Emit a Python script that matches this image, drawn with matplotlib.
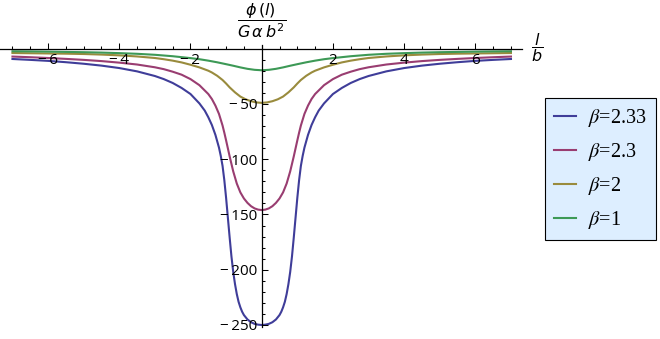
import numpy as np
import matplotlib
matplotlib.use('Agg')
import matplotlib.pyplot as plt
from matplotlib.ticker import MultipleLocator, FixedLocator

plt.rcParams['font.family'] = ['Open Sans', 'DejaVu Sans']

# right half of each curve (l >= 0); the curves are symmetric in l
l_b233 = [0, 0.1, 0.2, 0.3, 0.4, 0.5, 0.55, 0.6, 0.65, 0.7, 0.75, 0.8, 0.85, 0.9, 0.95,
          1.0, 1.05, 1.1, 1.15, 1.2, 1.3, 1.4, 1.5, 1.6, 1.75, 2.0, 2.25, 2.5, 2.75,
          3.0, 3.5, 4.0, 4.5, 5.0, 5.5, 6.0, 6.5, 7.0]
phi_b233 = [-250, -249.7, -249, -247.5, -245, -241, -238, -234, -229, -222, -213, -202, -188,
            -171, -153, -135, -119, -106, -97, -89.5, -78, -69, -62, -56, -49.5, -41, -35.5,
            -31, -27.5, -24.7, -20.5, -17.5, -15.3, -13.6, -12.2, -11, -10.1, -9.3]

l_b23 = [0, 0.1, 0.2, 0.3, 0.4, 0.5, 0.6, 0.7, 0.8, 0.9, 1.0, 1.05, 1.1, 1.2, 1.3, 1.4,
         1.5, 1.75, 2.0, 2.25, 2.5, 2.75, 3.0, 3.5, 4.0, 4.5, 5.0, 5.5, 6.0, 6.5, 7.0]
phi_b23 = [-146, -145.6, -144.5, -142.5, -139.5, -135.5, -130, -122, -111, -97.5, -83, -76,
           -69.5, -59, -51.5, -45.5, -41, -33, -27.5, -23.5, -20.8, -18.5, -16.8, -14.3,
           -12.6, -11.2, -10.1, -9.2, -8.4, -7.7, -7.1]

l_b2 = [0, 0.15, 0.3, 0.45, 0.6, 0.75, 0.9, 1.0, 1.1, 1.25, 1.4, 1.5, 1.75, 2.0, 2.25,
        2.5, 2.75, 3.0, 3.5, 4.0, 4.5, 5.0, 5.5, 6.0, 6.5, 7.0]
phi_b2 = [-49, -48.6, -47.5, -45.8, -43.3, -39.5, -35, -31.5, -28.3, -24.5, -21.5, -19.9,
          -16.9, -14.5, -12.4, -10.8, -9.5, -8.4, -7, -6, -5.3, -4.8, -4.5, -4.3, -4.1, -3.9]

l_b1 = [0, 0.2, 0.4, 0.6, 0.8, 1.0, 1.25, 1.5, 1.75, 2.0, 2.5, 3.0, 3.5, 4.0, 4.5, 5.0,
        5.5, 6.0, 6.5, 7.0]
phi_b1 = [-19.5, -19.1, -18.2, -16.9, -15.4, -14, -12.3, -10.8, -9.5, -8.5, -6.8, -5.5,
          -4.6, -4, -3.5, -3.15, -2.9, -2.65, -2.45, -2.3]

labels = [r'$\beta$=2.33', r'$\beta$=2.3', r'$\beta$=2', r'$\beta$=1']
colors = ['#3f3d99', '#993d71', '#998b3d', '#3d9956']

x_major = [-6, -4, -2, 2, 4, 6]
y_major = [-250, -200, -150, -100, -50]


def mirror(l, phi):
    l = np.array(l)
    phi = np.array(phi)
    return np.concatenate([-l[::-1], l[1:]]), np.concatenate([phi[::-1], phi[1:]])


fig = plt.figure(figsize=(6.6, 3.39), dpi=100)
ax = fig.add_axes([0, 11.8 / 339, 522 / 660, 281.8 / 339])

series = [(l_b233, phi_b233), (l_b23, phi_b23), (l_b2, phi_b2), (l_b1, phi_b1)]
handles = []
for (l, phi), c, lab in zip(series, colors, labels):
    x, y = mirror(l, phi)
    h, = ax.plot(x, y, color=c, lw=1.5, label=lab, solid_joinstyle='round')
    handles.append(h)

ax.set_xlim(-7.35, 7.31)
ax.set_ylim(-252, 3)

# axes through the origin, labels drawn over the curves
for s in ['top', 'right']:
    ax.spines[s].set_visible(False)
ax.spines['left'].set_position(('data', 0))
ax.spines['bottom'].set_position(('data', 0))
ax.spines['left'].set_linewidth(0.9)
ax.spines['bottom'].set_linewidth(0.9)
ax.patch.set_visible(False)
ax.set_axisbelow(False)

ax.xaxis.set_major_locator(FixedLocator(x_major))
ax.xaxis.set_minor_locator(MultipleLocator(0.5))
ax.yaxis.set_major_locator(FixedLocator(y_major))
ax.yaxis.set_minor_locator(MultipleLocator(10))
ax.set_xticklabels(['\u2212\u2009' + str(abs(v)) if v < 0 else str(v) for v in x_major])
ax.set_yticklabels(['\u2212\u2009' + str(abs(v)) for v in y_major])

ax.tick_params(axis='both', which='major', direction='in', length=4.3, width=0.75,
               labelsize=11, colors='black')
ax.tick_params(axis='both', which='minor', direction='in', length=2.5, width=0.75)
ax.tick_params(axis='x', which='major', pad=3)
ax.tick_params(axis='y', which='major', pad=3)

# axis labels as fractions
fig.text(261.7 / 660, 1 - 21 / 339, r'$\dfrac{\phi\,(l)}{G\,\alpha\,b^2}$',
         ha='center', va='center', fontsize=11.5)
fig.text(537 / 660, 1 - 48 / 339, r'$\dfrac{l}{b}$', ha='center', va='center', fontsize=11.5)

leg = ax.legend(handles, labels, loc='upper left',
                bbox_to_anchor=(545 / 660, 1 - 97.7 / 339), bbox_transform=fig.transFigure,
                frameon=True, fancybox=False, edgecolor='black', facecolor='#ddeeff',
                framealpha=1, prop={'family': 'Liberation Serif', 'size': 14.5},
                handlelength=1.1, handletextpad=0.6, labelspacing=0.6,
                borderpad=0.45, borderaxespad=0)
leg.get_frame().set_linewidth(0.8)
for t in leg.get_texts():
    t.set_math_fontfamily('stix')

fig.savefig('out.png', dpi=100)
